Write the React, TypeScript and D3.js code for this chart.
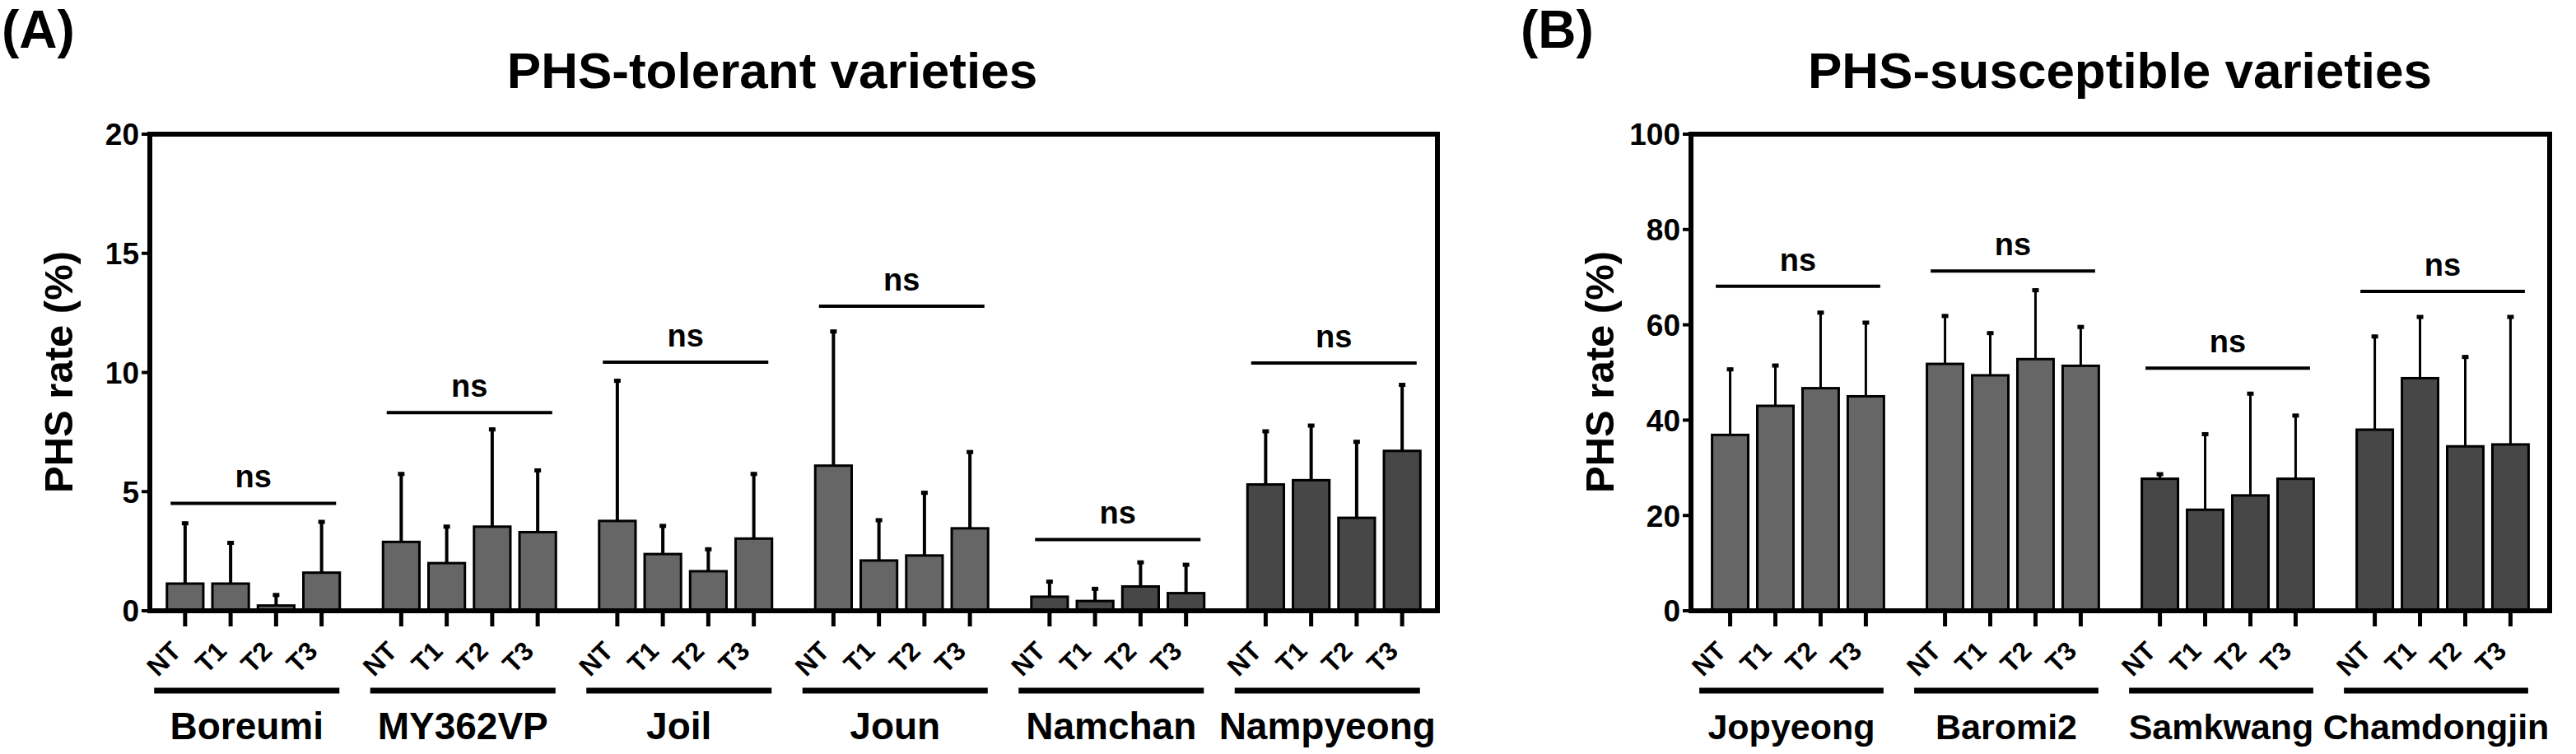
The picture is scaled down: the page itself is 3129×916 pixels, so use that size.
import React from "react";
import * as d3 from "d3";

const TREATMENTS = ["NT", "T1", "T2", "T3"];

// PHS-tolerant varieties (panel A)
const TOLERANT = ["Boreumi", "MY362VP", "Joil", "Joun", "Namchan", "Nampyeong"];
const TOLERANT_MEAN = [
  [1.14, 1.14, 0.22, 1.6],
  [2.89, 2.0, 3.53, 3.3],
  [3.77, 2.38, 1.66, 3.03],
  [6.09, 2.11, 2.32, 3.46],
  [0.59, 0.41, 1.02, 0.74],
  [5.3, 5.48, 3.9, 6.71],
];
const TOLERANT_SD = [
  [2.6, 1.78, 0.51, 2.2],
  [2.92, 1.6, 4.15, 2.66],
  [5.95, 1.25, 0.99, 2.78],
  [5.7, 1.76, 2.7, 3.27],
  [0.7, 0.58, 1.08, 1.26],
  [2.3, 2.36, 3.26, 2.84],
];
const TOLERANT_NS = [4.51, 8.32, 10.43, 12.78, 2.99, 10.4];
const TOLERANT_TICKS = [0, 5, 10, 15, 20];
const TOLERANT_DARK = ["Namchan", "Nampyeong"];

// PHS-susceptible varieties (panel B)
const SUSCEPTIBLE = ["Jopyeong", "Baromi2", "Samkwang", "Chamdongjin"];
const SUSCEPTIBLE_MEAN = [
  [36.9, 43.0, 46.7, 45.0],
  [51.8, 49.4, 52.8, 51.4],
  [27.7, 21.2, 24.2, 27.7],
  [38.0, 48.8, 34.5, 34.9],
];
const SUSCEPTIBLE_SD = [
  [14.1, 8.8, 16.2, 15.8],
  [10.4, 9.2, 14.8, 8.5],
  [1.3, 16.2, 21.7, 13.6],
  [19.9, 13.2, 19.1, 27.1],
];
const SUSCEPTIBLE_NS = [68.1, 71.3, 50.9, 67.0];
const SUSCEPTIBLE_TICKS = [0, 20, 40, 60, 80, 100];
const SUSCEPTIBLE_DARK = ["Samkwang", "Chamdongjin"];

const FONT = "'Liberation Sans', Arial, sans-serif";
const TOP = 163;
const BASE = 742;

type PanelProps = {
  letter: string;
  letterX: number;
  title: string;
  titleX: number;
  groups: string[];
  means: number[][];
  sds: number[][];
  ns: number[];
  ticks: number[];
  dark: string[];
  x0: number;
  x1: number;
  outer: number;
  labelX: number;
  groupFont: number;
  errWidth: number;
};

const Panel = (p: PanelProps) => {
  const yMax = p.ticks[p.ticks.length - 1];
  const y = d3.scaleLinear().domain([0, yMax]).range([BASE, TOP]);
  const gx = d3
    .scaleBand<string>()
    .domain(p.groups)
    .range([p.x0, p.x1])
    .paddingInner(0.158)
    .paddingOuter(p.outer);
  const bx = d3
    .scaleBand<string>()
    .domain(TREATMENTS)
    .range([0, gx.bandwidth()])
    .paddingInner(0.2)
    .paddingOuter(0.1);

  return (
    <g fontFamily={FONT} fontWeight="bold">
      <text x={p.letterX} y={58} fontSize={64}>{p.letter}</text>
      <text x={p.titleX} y={107} fontSize={62} textAnchor="middle">{p.title}</text>
      <text
        transform={`translate(${p.labelX},452) rotate(-90)`}
        textAnchor="middle"
        fontSize={49}
      >
        PHS rate (%)
      </text>

      {p.ticks.map(t => (
        <g key={t}>
          <line x1={p.x0 - 10} x2={p.x0} y1={y(t)} y2={y(t)} stroke="#000" strokeWidth={4} />
          <text x={p.x0 - 13} y={y(t)} dy="0.36em" textAnchor="end" fontSize={37}>{t}</text>
        </g>
      ))}

      {p.groups.map((g, gi) => {
        const gx0 = gx(g)!;
        const fill = p.dark.includes(g) ? "#474747" : "#666666";
        const nsY = y(p.ns[gi]);
        // underline sits a little left of the bars, label centred on it
        const ul0 = gx0 - 10;
        const ul1 = gx0 + gx.bandwidth() - 6;
        return (
          <g key={g}>
            {TREATMENTS.map((t, ti) => {
              const m = p.means[gi][ti];
              const top = y(m + p.sds[gi][ti]);
              const left = gx0 + bx(t)!;
              const cx = left + bx.bandwidth() / 2;
              return (
                <g key={t}>
                  <line x1={cx} x2={cx} y1={y(m)} y2={top} stroke="#000" strokeWidth={p.errWidth} />
                  <line x1={cx - 4} x2={cx + 4} y1={top + 2} y2={top + 2} stroke="#000" strokeWidth={5} />
                  <rect
                    x={left}
                    y={y(m)}
                    width={bx.bandwidth()}
                    height={BASE - y(m)}
                    fill={fill}
                    stroke="#000"
                    strokeWidth={3}
                  />
                  <line x1={cx} x2={cx} y1={BASE} y2={BASE + 19} stroke="#000" strokeWidth={5} />
                  <text
                    transform={`translate(${cx - 3},793) rotate(-45)`}
                    textAnchor="end"
                    fontSize={32}
                  >
                    {t}
                  </text>
                </g>
              );
            })}
            <line x1={gx0 + 10} x2={gx0 + gx.bandwidth() - 10} y1={nsY} y2={nsY} stroke="#000" strokeWidth={4} />
            <text x={gx0 + gx.bandwidth() / 2} y={nsY - 19} textAnchor="middle" fontSize={38}>ns</text>
            <line x1={ul0} x2={ul1} y1={839} y2={839} stroke="#000" strokeWidth={7} />
            <text x={(ul0 + ul1) / 2} y={898} textAnchor="middle" fontSize={p.groupFont}>{g}</text>
          </g>
        );
      })}

      <rect x={p.x0} y={TOP} width={p.x1 - p.x0} height={BASE - TOP} fill="none" stroke="#000" strokeWidth={6} />
    </g>
  );
};

export default function App() {
  return (
    <svg
      width={3129}
      height={916}
      style={{ position: "absolute", left: 0, top: 0, background: "#fff" }}
    >
      <rect width={3129} height={916} fill="#fff" />
      <Panel
        letter="(A)"
        letterX={2}
        title="PHS-tolerant varieties"
        titleX={938}
        groups={TOLERANT}
        means={TOLERANT_MEAN}
        sds={TOLERANT_SD}
        ns={TOLERANT_NS}
        ticks={TOLERANT_TICKS}
        dark={TOLERANT_DARK}
        x0={182}
        x1={1746}
        outer={0.058}
        labelX={88}
        groupFont={46}
        errWidth={4}
      />
      <Panel
        letter="(B)"
        letterX={1847}
        title="PHS-susceptible varieties"
        titleX={2575}
        groups={SUSCEPTIBLE}
        means={SUSCEPTIBLE_MEAN}
        sds={SUSCEPTIBLE_SD}
        ns={SUSCEPTIBLE_NS}
        ticks={SUSCEPTIBLE_TICKS}
        dark={SUSCEPTIBLE_DARK}
        x0={2054}
        x1={3097}
        outer={0.077}
        labelX={1960}
        groupFont={43}
        errWidth={3}
      />
    </svg>
  );
}
